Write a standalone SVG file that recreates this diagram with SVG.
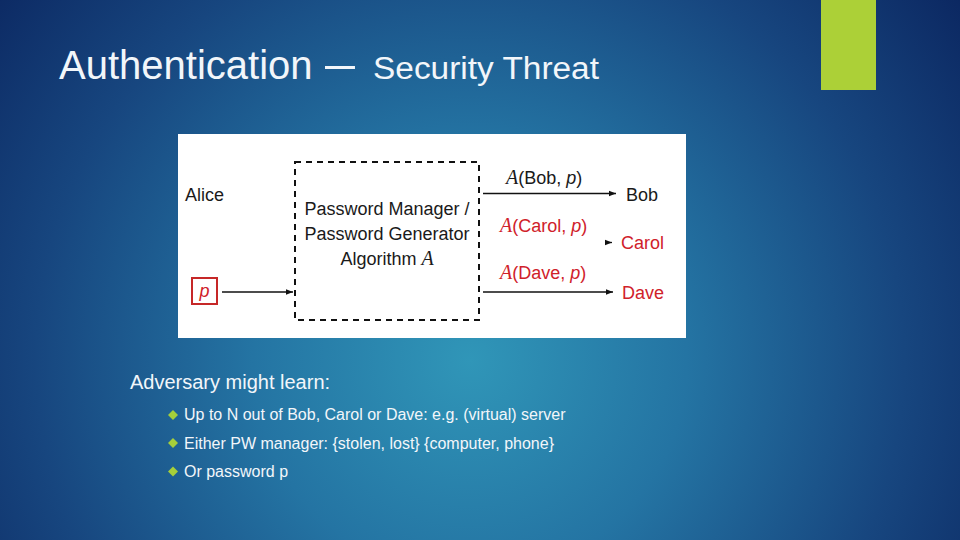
<svg xmlns="http://www.w3.org/2000/svg" width="960" height="540" viewBox="0 0 960 540">
  <defs>
    <radialGradient id="bg" cx="470" cy="360" r="620" gradientUnits="userSpaceOnUse">
      <stop offset="0" stop-color="#3096b8"/>
      <stop offset="0.35" stop-color="#2474a3"/>
      <stop offset="0.7" stop-color="#17467f"/>
      <stop offset="1" stop-color="#0b2660"/>
    </radialGradient>
    <marker id="ah" viewBox="0 0 10 10" refX="10" refY="5" markerWidth="7" markerHeight="7" markerUnits="userSpaceOnUse" orient="auto">
      <path d="M0,1 L10,5 L0,9 Z" fill="#111"/>
    </marker>
    <style>
      .t { font-family: "Liberation Sans", Arial, sans-serif; fill: #f2f6fa; }
      .d { font-family: "Liberation Sans", Arial, sans-serif; font-size: 18px; fill: #1a1a1a; }
      .r { fill: #d0212a; }
      .cal { font-family: "Liberation Serif", serif; font-style: italic; }
      .it { font-style: italic; }
      .conn { stroke: #111; stroke-width: 1.3; fill: none; marker-end: url(#ah); }
      .bul { fill: #a6cf3a; }
    </style>
  </defs>

  <rect x="0" y="0" width="960" height="540" fill="url(#bg)"/>
  <rect x="821" y="0" width="55" height="90" fill="#acd037"/>

  <text class="t" x="59" y="79" font-size="40">Authentication</text>
  <text class="t" x="325" y="79" font-size="44" textLength="30" lengthAdjust="spacingAndGlyphs">–</text>
  <text class="t" x="373" y="79" font-size="31" textLength="226" lengthAdjust="spacingAndGlyphs">Security Threat</text>

  <g id="figure">
    <rect x="178" y="134" width="508" height="204" fill="#ffffff"/>

    <g id="alice">
      <text class="d" x="185" y="201">Alice</text>
    </g>

    <g id="p-box">
      <rect x="192" y="278" width="25" height="26" fill="none" stroke="#c62828" stroke-width="2"/>
      <text class="d r it" x="204.5" y="297" text-anchor="middle">p</text>
    </g>

    <g id="manager">
      <rect x="295" y="162" width="184" height="158" fill="none" stroke="#111" stroke-width="2" stroke-dasharray="6,5"/>
      <text class="d" x="387" y="215" text-anchor="middle">Password Manager /</text>
      <text class="d" x="387" y="240" text-anchor="middle">Password Generator</text>
      <text class="d" x="387" y="265" text-anchor="middle">Algorithm <tspan class="cal" font-size="20">A</tspan></text>
    </g>

    <g id="bob">
      <text class="d" x="626" y="201">Bob</text>
    </g>
    <g id="carol">
      <text class="d r" x="621" y="249">Carol</text>
    </g>
    <g id="dave">
      <text class="d r" x="622" y="299">Dave</text>
    </g>

    <g id="connectors">
      <line class="conn" x1="222" y1="292" x2="293" y2="292"/>
      <line class="conn" x1="483" y1="193.5" x2="616" y2="193.5"/>
      <line class="conn" x1="605" y1="242.5" x2="612" y2="242.5"/>
      <line class="conn" x1="483" y1="292" x2="613" y2="292"/>
    </g>

    <g id="labels">
      <text class="d" x="506" y="184"><tspan class="cal" font-size="20">A</tspan>(Bob, <tspan class="it">p</tspan>)</text>
      <text class="d r" x="500" y="232"><tspan class="cal" font-size="20">A</tspan>(Carol, <tspan class="it">p</tspan>)</text>
      <text class="d r" x="500" y="279"><tspan class="cal" font-size="20">A</tspan>(Dave, <tspan class="it">p</tspan>)</text>
    </g>
  </g>

  <text class="t" x="130" y="389" font-size="20">Adversary might learn:</text>

  <g id="bullets">
    <path class="bul" d="M173,410 L178,415 L173,420 L168,415 Z"/>
    <text class="t" x="184" y="420" font-size="16">Up to N out of Bob, Carol or Dave: e.g. (virtual) server</text>
    <path class="bul" d="M173,438 L178,443 L173,448 L168,443 Z"/>
    <text class="t" x="184" y="448.5" font-size="16">Either PW manager: {stolen, lost} {computer, phone}</text>
    <path class="bul" d="M173,466.5 L178,471.5 L173,476.5 L168,471.5 Z"/>
    <text class="t" x="184" y="477" font-size="16">Or password p</text>
  </g>
</svg>
